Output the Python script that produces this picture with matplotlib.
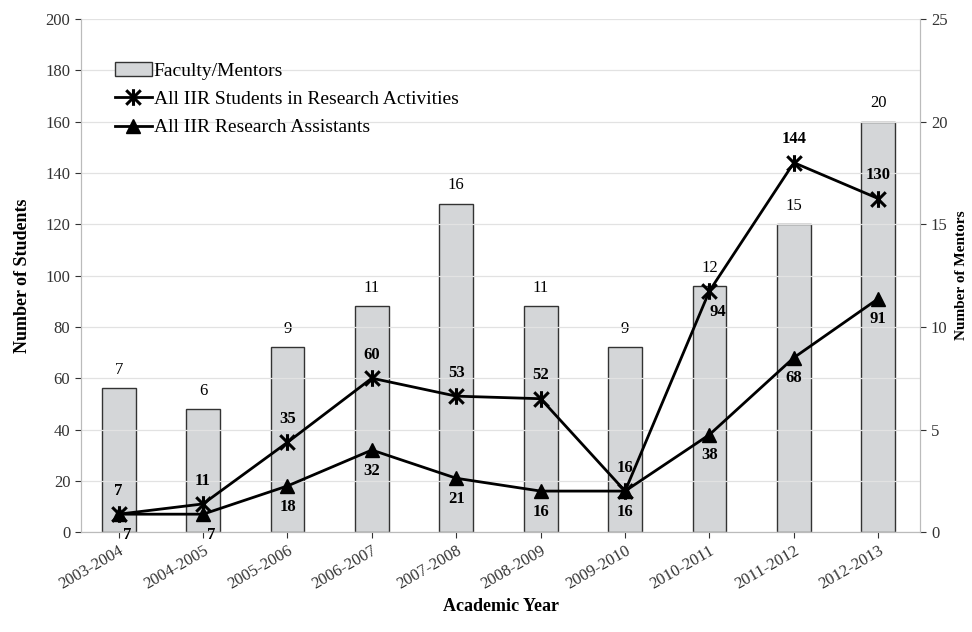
import numpy as np
import matplotlib.pyplot as plt
from matplotlib.path import Path

plt.rcParams['font.family'] = ['Liberation Serif', 'DejaVu Serif']

years = ['2003-2004', '2004-2005', '2005-2006', '2006-2007', '2007-2008',
         '2008-2009', '2009-2010', '2010-2011', '2011-2012', '2012-2013']
mentors = [7, 6, 9, 11, 16, 11, 9, 12, 15, 20]
students = [7, 11, 35, 60, 53, 52, 16, 94, 144, 130]
assistants = [7, 7, 18, 32, 21, 16, 16, 38, 68, 91]

x = np.arange(len(years))

# asterisk marker: an X with a vertical stroke through it
star = Path([(-1, -1), (1, 1), (-1, 1), (1, -1), (0, -1.15), (0, 1.15)],
            [Path.MOVETO, Path.LINETO, Path.MOVETO, Path.LINETO, Path.MOVETO, Path.LINETO])

fig = plt.figure(figsize=(9.72, 6.32), dpi=100)
ax = fig.add_axes([0.083, 0.158, 0.864, 0.812])
ax2 = ax.twinx()

# bars go on the right axis (mentors), lines on the left axis (students)
ax2.bar(x, mentors, width=0.4, color='#d4d6d8', edgecolor='#333333', linewidth=1.0,
        label='Faculty/Mentors', zorder=1)
ax2.set_ylim(0, 25)
ax2.set_yticks(range(0, 26, 5))
for xi, m in zip(x, mentors):
    ax2.text(xi, m + 0.5, str(m), ha='center', va='bottom', fontsize=12)

ax.set_zorder(ax2.get_zorder() + 1)
ax.patch.set_visible(False)

ax.plot(x, students, color='black', lw=2, marker=star, ms=12, mew=2.2,
        label='All IIR Students in Research Activities')
ax.plot(x, assistants, color='black', lw=2, marker='^', ms=10,
        label='All IIR Research Assistants')

for i, (s, a) in enumerate(zip(students, assistants)):
    if years[i] == '2010-2011':
        ax.text(i + 0.1, s - 5, str(s), ha='center', va='top', fontsize=12, fontweight='bold')
    else:
        ax.text(i, s + 6, str(s), ha='center', va='bottom', fontsize=12, fontweight='bold')
    ax.text(i + 0.1 if i < 2 else i, a - 5, str(a), ha='center', va='top',
            fontsize=12, fontweight='bold')

ax.set_ylim(0, 200)
ax.set_yticks(range(0, 201, 20))
ax.set_xlim(-0.45, 9.5)
ax.set_xticks(x)
ax.set_xticklabels(years, rotation=30, ha='right', rotation_mode='anchor', fontsize=13)
ax.yaxis.grid(True, color='#e2e2e2', lw=0.9)
ax.set_axisbelow(True)
ax2.grid(False)

ax.set_ylabel('Number of Students', fontsize=13, fontweight='bold', labelpad=10)
ax2.set_ylabel('Number of Mentors', fontsize=11, fontweight='bold', labelpad=5)
ax.set_xlabel('Academic Year', fontsize=13, fontweight='bold', labelpad=4)

for a_ in (ax, ax2):
    a_.tick_params(labelsize=12, colors='#333333', length=4)
    for sp in a_.spines.values():
        sp.set_color('#bbbbbb')
ax2.spines['top'].set_visible(False)
ax.spines['top'].set_visible(False)

h1, l1 = ax2.get_legend_handles_labels()
h2, l2 = ax.get_legend_handles_labels()
ax.legend(h1 + h2, l1 + l2, loc='upper left', bbox_to_anchor=(0.02, 0.95),
          frameon=False, fontsize=14, handlelength=1.9, handletextpad=0.1,
          labelspacing=0.55)

fig.savefig('out.png', dpi=100)
